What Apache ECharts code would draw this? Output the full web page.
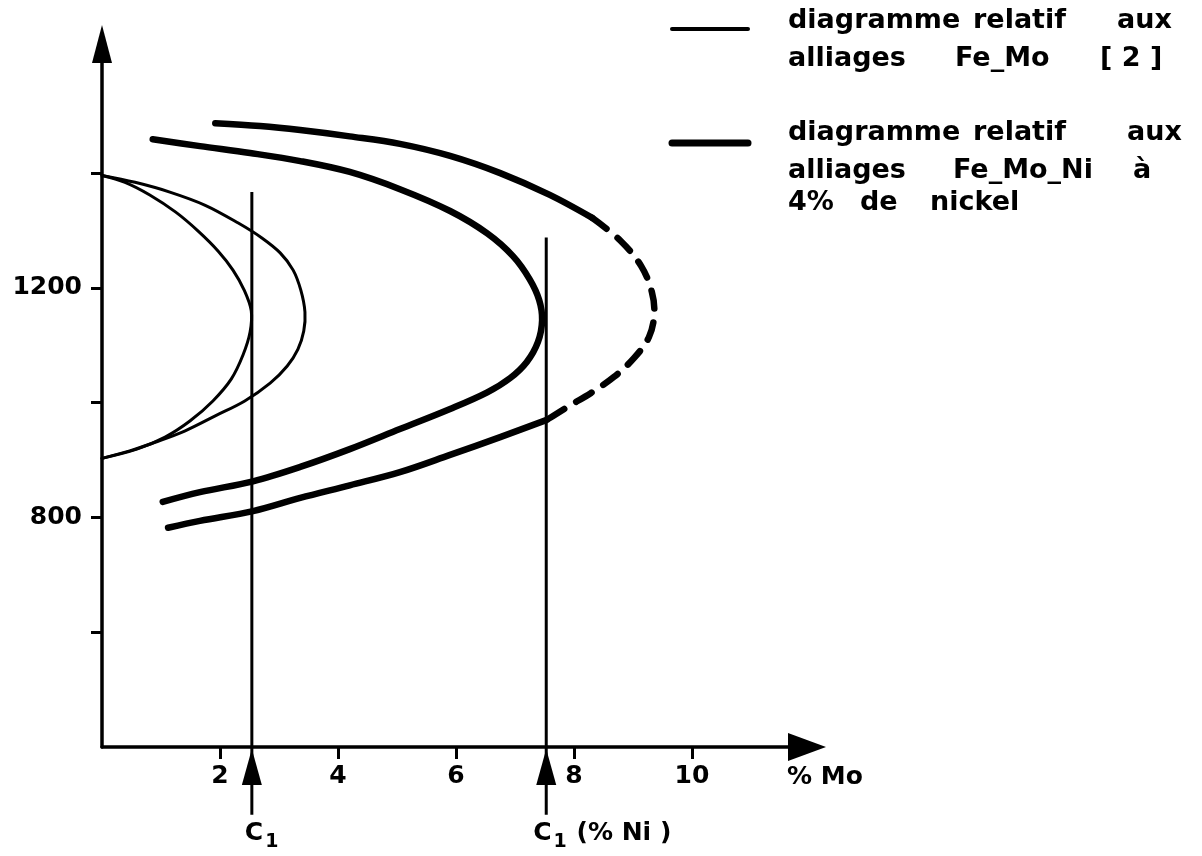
<!DOCTYPE html>
<html>
<head>
<meta charset="utf-8">
<script src="https://cdn.jsdelivr.net/npm/echarts@6/dist/echarts.min.js"></script>
<style>
  html, body { margin: 0; padding: 0; background: #fff; }
  #chart { width: 1202px; height: 856px; }
</style>
</head>
<body>
<div id="chart"></div>
<script>
// ---------- data ----------
const X_TICKS = [2, 4, 6, 8, 10];
const Y_TICKS = [600, 800, 1000, 1200, 1400];
const Y_LABELS = [800, 1200];
const X_NAME = '% Mo';

// thin curves : diagramme relatif aux alliages Fe-Mo [2]
const feMoInner = [
  [0, 1396], [0.39, 1384], [0.81, 1362], [1.25, 1332], [1.63, 1299], [1.97, 1264],
  [2.22, 1231], [2.41, 1196], [2.53, 1160], [2.51, 1123], [2.39, 1083], [2.19, 1041],
  [1.88, 1003], [1.49, 968], [1.07, 940], [0.59, 919], [0, 903]
];
const feMoOuter = [
  [0, 1396], [0.56, 1384], [1.15, 1367], [1.75, 1344], [2.31, 1313], [2.71, 1287],
  [3.02, 1261], [3.24, 1231], [3.37, 1196], [3.44, 1158], [3.42, 1125], [3.32, 1093],
  [3.14, 1064], [2.85, 1034], [2.42, 1003], [1.92, 977], [1.41, 951], [0.90, 931],
  [0.47, 916], [0, 903]
];

// thick curves : diagramme relatif aux alliages Fe-Mo-Ni à 4% de nickel
const feMoNiInner = [
  [0.86, 1459], [1.66, 1447], [2.51, 1435], [3.36, 1421], [4.20, 1402], [5.05, 1372],
  [5.90, 1334], [6.53, 1295], [6.97, 1255], [7.25, 1215], [7.41, 1179], [7.46, 1144],
  [7.39, 1106], [7.20, 1071], [6.92, 1043], [6.53, 1018], [5.90, 989], [5.05, 954],
  [4.20, 919], [3.36, 888], [2.56, 863], [1.66, 844], [1.03, 827]
];
const feMoNiOuterUpper = [
  [1.92, 1487], [2.68, 1482], [3.36, 1475], [4.20, 1464], [5.05, 1451], [5.90, 1430],
  [6.75, 1400], [7.59, 1362], [8.31, 1322]
];
const feMoNiOuterDashed = [
  [8.31, 1322], [8.78, 1283], [9.14, 1238], [9.32, 1193], [9.36, 1153], [9.27, 1114],
  [9.02, 1078], [8.68, 1045], [8.29, 1017], [7.88, 992], [7.54, 970]
];
const feMoNiOuterLower = [
  [7.54, 970], [6.75, 940], [5.90, 909], [5.05, 879], [4.20, 856], [3.36, 834],
  [2.56, 811], [1.66, 794], [1.12, 782]
];

// C1 markers
const c1X = [2.54, 7.53];
const c1Top = [1367, 1288];
const c1Suffix = ['', ' (% Ni )'];

// legend texts
const legendThin = [['diagramme', 'relatif', 'aux'], ['alliages', 'Fe_Mo', '[ 2 ]']];
const legendThick = [['diagramme', 'relatif', 'aux'], ['alliages', 'Fe_Mo_Ni', 'à'], ['4%', 'de', 'nickel']];

// ---------- layout ----------
const FONT = '"DejaVu Sans", "Liberation Sans", sans-serif';
const INK = '#000';
const C1_BOTTOM = 282;   // value below the x axis where the marker line ends
const C1_ARROW = 365;    // value of arrow centre below the axis
const c1LabelOffset = [-7, -13];

const series = [];
// smooth curve through the read points, positioned with the cartesian axes (api.coord)
function curve(name, data, width, dashed) {
  series.push({
    name: name, type: 'custom', coordinateSystem: 'cartesian2d',
    data: data, encode: { x: 0, y: 1 },
    renderItem: function (params, api) {
      if (params.dataIndex !== 0) return null;
      const pts = data.map(function (p) { return api.coord(p); });
      return {
        type: 'polyline',
        shape: { points: pts, smooth: 0.35 },
        style: { stroke: INK, fill: 'none', lineWidth: width, lineDash: dashed ? [18, 14] : null, lineCap: 'round', lineJoin: 'round' },
        silent: true
      };
    },
    animation: false, silent: true, z: 3
  });
}
curve('Fe-Mo', feMoInner, 3);
curve('Fe-Mo', feMoOuter, 3);
curve('Fe-Mo-Ni 4%', feMoNiInner, 6.5);
curve('Fe-Mo-Ni 4%', feMoNiOuterUpper, 6.5);
curve('Fe-Mo-Ni 4%', feMoNiOuterDashed, 6.5, true);
curve('Fe-Mo-Ni 4%', feMoNiOuterLower, 6.5);

c1X.forEach(function (x, i) {
  series.push({
    type: 'line', data: [[x, C1_BOTTOM], [x, c1Top[i]]], symbol: 'none', clip: false,
    lineStyle: { color: INK, width: 3 }, animation: false, silent: true, z: 4
  });
  series.push({
    type: 'scatter', data: [[x, C1_ARROW]], symbol: 'triangle', symbolSize: [20, 36], clip: false,
    itemStyle: { color: INK, opacity: 1 }, animation: false, silent: true, z: 5
  });
  series.push({
    type: 'scatter', clip: false, symbolSize: 1, itemStyle: { color: 'rgba(0,0,0,0)', opacity: 1 },
    data: [{ value: [x, C1_BOTTOM], label: {
      show: true, position: 'bottom', distance: 6, align: 'left', offset: [c1LabelOffset[i], 0],
      formatter: '{a|C}{b|1}' + (c1Suffix[i] ? '{a|' + c1Suffix[i] + '}' : ''),
      rich: {
        a: { color: INK, fontFamily: FONT, fontWeight: 'bold', fontSize: 25, lineHeight: 25, verticalAlign: 'top' },
        b: { color: INK, fontFamily: FONT, fontWeight: 'bold', fontSize: 19, lineHeight: 19, verticalAlign: 'top', padding: [11, 1, 0, 2] }
      }
    } }],
    animation: false, silent: true, z: 5
  });
});

// legend drawn as graphic (lines + justified words)
const wordX = {
  thin: [[788, 973, 1117], [788, 955, 1100]],
  thick: [[788, 973, 1127], [788, 953, 1133], [788, 860, 930]]
};
const baseY = { thin: [34, 72], thick: [146, 184, 216] };
const graphic = [
  { type: 'line', shape: { x1: 672, y1: 29, x2: 748, y2: 29 }, style: { stroke: INK, lineWidth: 4, lineCap: 'round' } },
  { type: 'line', shape: { x1: 672, y1: 143, x2: 748, y2: 143 }, style: { stroke: INK, lineWidth: 7, lineCap: 'round' } }
];
function addWords(lines, key) {
  lines.forEach(function (words, li) {
    words.forEach(function (w, wi) {
      graphic.push({
        type: 'text', x: wordX[key][li][wi], y: baseY[key][li],
        style: { text: w, fill: INK, font: 'bold 27px ' + FONT, verticalAlign: 'bottom' }
      });
    });
  });
}
addWords(legendThin, 'thin');
addWords(legendThick, 'thick');

const chart = echarts.init(document.getElementById('chart'), null, { renderer: 'canvas' });
chart.setOption({
  backgroundColor: '#fff',
  animation: false,
  grid: { left: 102, right: 395, top: 44, bottom: 109, containLabel: false },
  xAxis: {
    type: 'value', min: 0, max: 11.95,
    name: X_NAME, nameLocation: 'end', nameGap: -20,
    nameTextStyle: { color: INK, fontFamily: FONT, fontWeight: 'bold', fontSize: 25, align: 'left', verticalAlign: 'top', padding: [18, 0, 0, 0] },
    axisLine: { show: true, onZero: false, symbol: ['none', 'triangle'], symbolSize: [28, 38], lineStyle: { color: INK, width: 3.5 } },
    axisTick: { show: true, inside: false, length: 12, customValues: X_TICKS, lineStyle: { color: INK, width: 3 } },
    axisLabel: { show: true, customValues: X_TICKS, margin: 17, color: INK, fontFamily: FONT, fontWeight: 'bold', fontSize: 25, lineHeight: 25,
      formatter: function (v) { return String(v); } },
    splitLine: { show: false }
  },
  yAxis: {
    type: 'value', min: 400, max: 1625,
    axisLine: { show: true, onZero: false, symbol: ['none', 'triangle'], symbolSize: [20, 38], lineStyle: { color: INK, width: 3.5 } },
    axisTick: { show: true, inside: false, length: 11, customValues: Y_TICKS, lineStyle: { color: INK, width: 3 } },
    axisLabel: { show: true, customValues: Y_LABELS, margin: 20, color: INK, fontFamily: FONT, fontWeight: 'bold', fontSize: 25, padding: [0, 0, 12, 0],
      formatter: function (v) { return String(v); } },
    splitLine: { show: false }
  },
  series: series,
  graphic: graphic
});
</script>
</body>
</html>
